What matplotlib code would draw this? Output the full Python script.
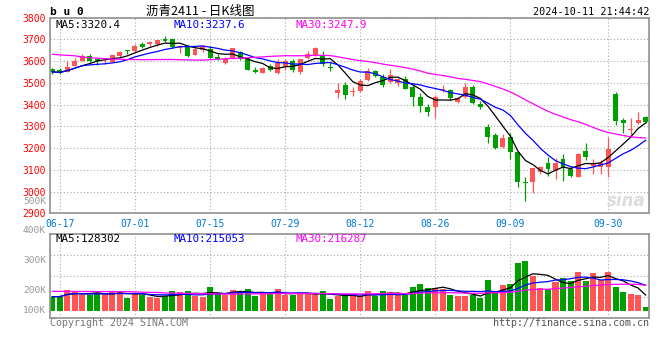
import numpy as np
import pandas as pd
import matplotlib.pyplot as plt

# bu0 (bitumen 2411) daily bars, 2024-06-14 .. last bar = 10-11 night session
opn = [3561, 3558, 3551, 3579, 3602, 3623, 3608, 3598, 3597, 3623,
       3651, 3646, 3679, 3676, 3676, 3700, 3702, 3659, 3669, 3628,
       3651, 3656, 3619, 3591, 3613, 3640, 3613, 3558, 3545, 3579,
       3545, 3571, 3602, 3550, 3614, 3628, 3626, 3574, 3455, 3490,
       3456, 3464, 3513, 3554, 3528, 3502, 3498, 3518, 3482, 3435,
       3390, 3390, 3469, 3467, 3413, 3436, 3482, 3403, 3297, 3260,
       3207, 3252, 3183, 3044, 3045, 3091, 3130, 3099, 3148, 3102,
       3068, 3186, 3119, 3111, 3114, 3449, 3329, 3282, 3317, 3341]
high = [3567, 3567, 3600, 3613, 3630, 3633, 3613, 3613, 3627, 3648,
        3651, 3676, 3688, 3692, 3697, 3715, 3705, 3674, 3674, 3662,
        3674, 3671, 3633, 3617, 3659, 3648, 3620, 3573, 3571, 3584,
        3610, 3607, 3608, 3611, 3646, 3666, 3646, 3597, 3501, 3504,
        3479, 3516, 3567, 3559, 3541, 3564, 3524, 3531, 3496, 3455,
        3401, 3444, 3490, 3472, 3436, 3498, 3490, 3416, 3311, 3268,
        3265, 3271, 3183, 3068, 3110, 3118, 3157, 3156, 3173, 3111,
        3179, 3225, 3150, 3145, 3249, 3456, 3337, 3337, 3364, 3347]
low = [3541, 3541, 3548, 3579, 3602, 3597, 3582, 3585, 3594, 3620,
       3631, 3640, 3662, 3671, 3671, 3689, 3660, 3639, 3620, 3627,
       3642, 3608, 3605, 3584, 3610, 3605, 3559, 3545, 3543, 3556,
       3538, 3559, 3548, 3542, 3611, 3625, 3579, 3554, 3432, 3426,
       3441, 3459, 3508, 3528, 3479, 3498, 3487, 3470, 3395, 3367,
       3349, 3340, 3459, 3421, 3406, 3429, 3403, 3378, 3225, 3194,
       3200, 3150, 3022, 2958, 2992, 3079, 3073, 3056, 3050, 3068,
       3068, 3145, 3079, 3079, 3068, 3306, 3271, 3249, 3309, 3316]
close = [3550, 3545, 3573, 3600, 3625, 3600, 3602, 3602, 3627, 3642,
         3646, 3671, 3666, 3686, 3697, 3692, 3663, 3671, 3625, 3654,
         3669, 3613, 3611, 3608, 3659, 3608, 3559, 3551, 3567, 3559,
         3593, 3599, 3559, 3608, 3633, 3660, 3585, 3568, 3467, 3444,
         3462, 3508, 3554, 3533, 3492, 3536, 3516, 3473, 3433, 3395,
         3367, 3436, 3473, 3429, 3429, 3482, 3409, 3390, 3252, 3202,
         3245, 3183, 3045, 3038, 3107, 3111, 3104, 3130, 3111, 3072,
         3173, 3159, 3125, 3130, 3194, 3326, 3314, 3286, 3329, 3321]
# volume in thousands of lots
vol_k = [119, 119, 175, 167, 133, 133, 150, 130, 167, 167,
         108, 141, 130, 119, 104, 124, 167, 158, 167, 121,
         116, 201, 153, 133, 175, 153, 184, 124, 141, 141,
         184, 130, 130, 150, 150, 133, 167, 99, 121, 121,
         141, 121, 167, 121, 167, 158, 133, 133, 201, 226,
         192, 192, 184, 133, 124, 124, 133, 108, 260, 158,
         218, 226, 404, 421, 294, 192, 184, 243, 277, 252,
         328, 252, 319, 260, 328, 201, 158, 141, 133, 31]

# MA30 before 30 bars exist (earlier history not on the chart)
ma30_head = [3631, 3628, 3626, 3624, 3618, 3615, 3613, 3611, 3609, 3608,
             3607, 3607, 3606, 3606, 3607, 3607, 3607, 3606, 3605, 3604,
             3604, 3606, 3608, 3610, 3612, 3613, 3615, 3617, 3619]
vma30_head = [164, 164, 164, 163, 163, 163, 162, 162, 162, 161,
              161, 160, 157, 155, 154, 150, 149, 148, 147, 145,
              144, 143, 142, 141, 141, 141, 142, 143, 143]

price_ma_text = ['MA5:3320.4', 'MA10:3237.6', 'MA30:3247.9']
vol_ma_text = ['MA5:128302', 'MA10:215053', 'MA30:216287']
price_ticks = list(range(2900, 3900, 100))
vol_labels = ['500K', '400K', '300K', '200K', '100K']
tick_dates = ['06-17', '07-01', '07-15', '07-29', '08-12', '08-26', '09-09', '09-30']
holidays = ['2024-09-16', '2024-09-17', '2024-10-01', '2024-10-02',
            '2024-10-03', '2024-10-04', '2024-10-07']

days = pd.bdate_range('2024-06-14', '2024-10-14')
days = days[~days.isin(pd.to_datetime(holidays))]
day_str = list(days.strftime('%m-%d'))
tick_pos = [day_str.index(d) for d in tick_dates]

opn, high, low, close = map(np.array, (opn, high, low, close))
vol = np.array(vol_k) * 1000.0
x = np.arange(len(close))

def moving(values, n, head=None):
    m = pd.Series(values).rolling(n, min_periods=1).mean().to_numpy()
    if head is not None:
        m[:len(head)] = head
    return m

ma5, ma10 = moving(close, 5), moving(close, 10)
ma30 = moving(close, 30, ma30_head)
vma5, vma10 = moving(vol, 5), moving(vol, 10)
vma30 = moving(vol, 30, np.array(vma30_head) * 1000.0)

RED, GREEN = '#ff5555', '#00a000'
MA_COLORS = ['black', '#0000ff', '#ff00ff']
MONO = 'DejaVu Sans Mono'
colors = np.where(close >= opn, RED, GREEN)

W, H = 660, 360
fig = plt.figure(figsize=(W / 100, H / 100), dpi=100)


def box(left, top, right, bottom):
    return [left / W, 1 - bottom / H, (right - left) / W, (bottom - top) / H]


def px_text(px, py, s, **kw):
    fig.text(px / W, 1 - py / H, s, va='center', **kw)


ax = fig.add_axes(box(50, 17.5, 649, 213.3))
axv = fig.add_axes(box(50, 234.3, 649, 317.7))

# candles
ax.vlines(x, low, high, colors=colors, lw=0.9, zorder=2)
ax.bar(x, np.maximum(np.abs(close - opn), 4), bottom=np.minimum(opn, close),
       width=0.66, color=colors, lw=0, zorder=2)
for m, c in zip([ma5, ma10, ma30], MA_COLORS):
    ax.plot(x, m, color=c, lw=0.9, zorder=3)

# volume
axv.bar(x, vol, width=0.8, color=colors, lw=0, zorder=2)
for m, c in zip([vma5, vma10, vma30], MA_COLORS):
    axv.plot(x, m, color=c, lw=0.9, zorder=3)

for a in (ax, axv):
    a.set_xlim(-0.31, 79.45)
    a.set_xticks(tick_pos)
    a.grid(True, color='#aaaaaa', ls=(0, (1, 2)), lw=0.8)
    a.tick_params(length=0)
    for s in a.spines.values():
        s.set_color('#999999')
        s.set_linewidth(1.3)

ax.set_ylim(2900, 3800)
ax.set_yticks(price_ticks)
ax.set_yticklabels([str(p) for p in price_ticks], color='red', family=MONO, fontsize=7)
ax.tick_params(axis='y', pad=3)
ax.set_xticklabels(tick_dates, color='#0078d7', family=MONO, fontsize=7)
ax.tick_params(axis='x', pad=4)

vlo, vhi = -59300, 647000
axv.set_ylim(vlo, vhi)
axv.set_yticks(np.linspace(vlo, vhi, 5)[1:-1])
axv.set_yticklabels([])
axv.set_xticklabels([])

# legends inside the panels
for s, c, px in zip(price_ma_text, MA_COLORS, [55, 174, 295]):
    px_text(px, 24.5, s, color=c, family=MONO, fontsize=7.8)
for s, c, px in zip(vol_ma_text, MA_COLORS, [55, 174, 295]):
    px_text(px, 238.5, s, color=c, family=MONO, fontsize=7.8)

# odd volume axis labels, as placed by the source chart
for s, py in zip(vol_labels, [201.8, 230.7, 260.7, 290.7, 310.3]):
    px_text(46, py, s, color='#999999', family=MONO, fontsize=6.8, ha='right')

# header
px_text(50, 12, 'b u 0', color='black', family=MONO, fontsize=8, fontweight='bold')
px_text(200, 11.5, '沥青2411 - 日K线图', color='black',
        family=['Noto Sans CJK SC', 'DejaVu Sans'], fontsize=9, ha='center')
px_text(649, 12, '2024-10-11 21:44:42', color='black', family=MONO, fontsize=7.3, ha='right')

# footer and watermark
px_text(50, 323, 'Copyright 2024 SINA.COM', color='#777777', family=MONO, fontsize=7.2)
px_text(649, 323, 'http://finance.sina.com.cn', color='#555555', family=MONO,
        fontsize=7.2, ha='right')
px_text(646, 201, 'sina', color='#dddddd', fontsize=12, fontweight='bold',
        style='italic', ha='right')

fig.savefig('out.png', dpi=100)
